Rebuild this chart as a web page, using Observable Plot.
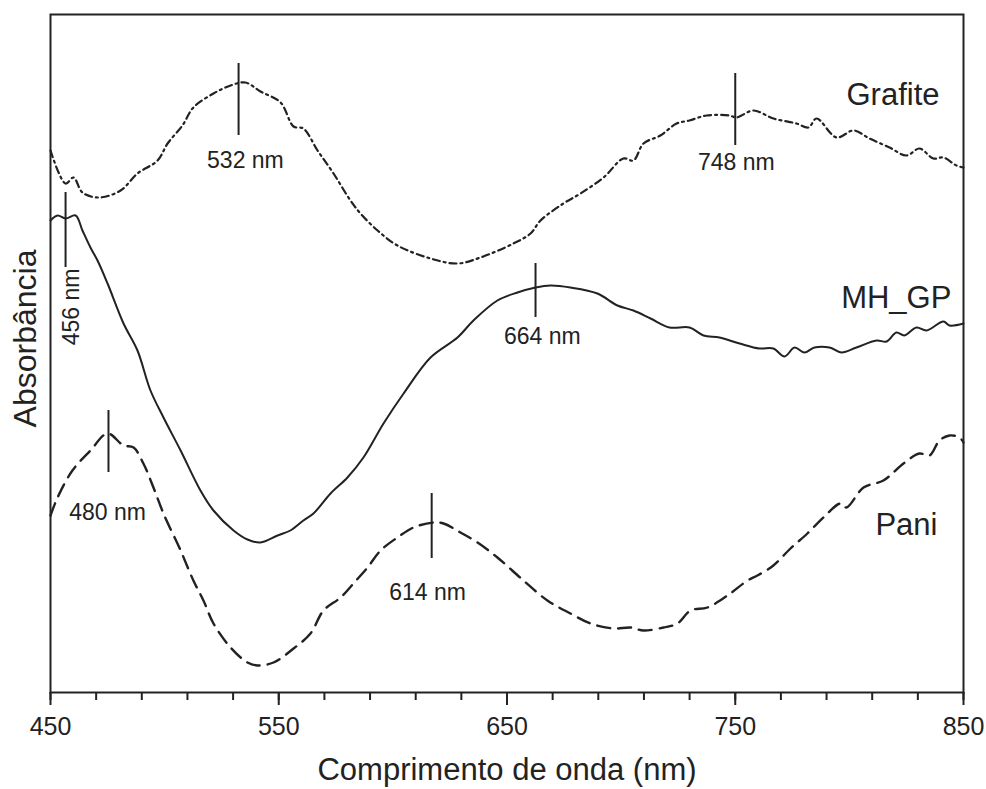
<!DOCTYPE html>
<html>
<head>
<meta charset="utf-8">
<script src="https://cdn.jsdelivr.net/npm/d3@7"></script>
<script src="https://cdn.jsdelivr.net/npm/@observablehq/plot@0.6"></script>
<style>
  html, body { margin: 0; padding: 0; background: #fff; }
  #chart svg { display: block; }
</style>
</head>
<body>
<div id="chart"></div>
<script>
// ---------- data ----------
const grafiteNm  = [450, 456.6, 460.1, 464.0, 471.0, 480.7, 488.1, 496.9, 501.3, 507.8, 512.6, 521.4, 528.9, 535.4, 542.0, 550.8, 556.5, 560.8, 567.0, 574.0, 581.4, 585.8, 593.3, 602.0, 616.5, 628.3, 638.4, 652.8, 660.3, 664.7, 674.7, 682.2, 692.3, 701.0, 705.4, 709.8, 717.2, 724.3, 729.9, 737.4, 747.5, 750.5, 758.0, 766.7, 776.8, 782.1, 785.6, 794.4, 801.8, 808.8, 817.6, 825.0, 830.7, 836.8, 841.2, 846.9, 850];
const grafiteAbs = [5.42, 5.09, 5.15, 5.00, 4.95, 5.02, 5.19, 5.32, 5.49, 5.67, 5.85, 5.99, 6.07, 6.10, 6.01, 5.90, 5.66, 5.64, 5.42, 5.19, 4.92, 4.79, 4.62, 4.47, 4.34, 4.29, 4.35, 4.49, 4.59, 4.72, 4.89, 4.99, 5.15, 5.34, 5.32, 5.49, 5.57, 5.69, 5.72, 5.77, 5.77, 5.75, 5.82, 5.74, 5.69, 5.65, 5.74, 5.55, 5.62, 5.54, 5.45, 5.37, 5.44, 5.34, 5.35, 5.27, 5.25];

const mhgpNm  = [450, 453.1, 456.6, 461.0, 464.0, 467.5, 470.6, 475.0, 482.0, 488.1, 493.8, 499.5, 507.0, 515.7, 521.4, 530.2, 536.3, 542.0, 549.5, 555.1, 560.8, 565.2, 572.7, 580.1, 587.1, 595.9, 604.7, 616.5, 628.3, 635.3, 645.8, 654.6, 662.5, 669.1, 677.8, 689.6, 698.4, 705.4, 712.9, 721.2, 730.0, 736.1, 743.1, 751.9, 760.6, 766.7, 771.6, 776.0, 780.3, 784.7, 791.3, 796.5, 803.1, 811.9, 816.3, 820.6, 824.1, 829.4, 833.8, 841.2, 843.9, 850];
const mhgpAbs = [4.72, 4.77, 4.74, 4.77, 4.62, 4.45, 4.32, 4.09, 3.69, 3.42, 3.02, 2.75, 2.42, 2.02, 1.82, 1.62, 1.53, 1.50, 1.57, 1.62, 1.72, 1.79, 1.99, 2.15, 2.35, 2.69, 2.99, 3.35, 3.55, 3.72, 3.92, 4.00, 4.05, 4.07, 4.05, 3.99, 3.87, 3.82, 3.74, 3.65, 3.65, 3.57, 3.55, 3.49, 3.44, 3.44, 3.36, 3.45, 3.40, 3.45, 3.45, 3.40, 3.45, 3.52, 3.51, 3.60, 3.57, 3.65, 3.62, 3.71, 3.67, 3.69];

const paniNm  = [450, 453.1, 459.6, 467.5, 475.0, 482.0, 486.4, 490.7, 495.1, 499.5, 507.0, 512.6, 517.0, 521.4, 528.9, 536.3, 540.7, 547.7, 556.5, 563.9, 569.6, 577.1, 582.7, 588.9, 594.6, 602.0, 609.0, 617.8, 622.2, 629.6, 637.1, 645.8, 657.2, 667.7, 677.8, 686.6, 696.6, 704.1, 709.8, 718.6, 724.7, 730.4, 737.8, 746.6, 755.4, 759.7, 766.7, 774.2, 781.6, 788.6, 796.1, 798.7, 806.2, 814.9, 823.7, 830.7, 835.1, 839.5, 843.9, 848.2, 850];
const paniAbs = [1.77, 1.95, 2.22, 2.42, 2.59, 2.47, 2.45, 2.29, 2.05, 1.79, 1.42, 1.12, 0.92, 0.69, 0.45, 0.30, 0.27, 0.30, 0.44, 0.59, 0.82, 0.95, 1.09, 1.25, 1.42, 1.55, 1.65, 1.70, 1.69, 1.60, 1.50, 1.35, 1.12, 0.92, 0.79, 0.69, 0.64, 0.65, 0.62, 0.65, 0.69, 0.82, 0.85, 0.97, 1.12, 1.17, 1.27, 1.44, 1.59, 1.75, 1.89, 1.85, 2.05, 2.12, 2.29, 2.39, 2.37, 2.52, 2.57, 2.55, 2.50];

// peak markers
const peakNm     = [456.6, 532.4, 750.0, 662.5, 475.4, 617.0];
const peakTop    = [5.00, 6.29, 6.19, 4.29, 2.82, 1.99];
const peakBottom = [4.25, 5.57, 5.47, 3.75, 2.20, 1.34];

// peak labels
const peakLabel    = ["456 nm", "532 nm", "748 nm", "664 nm", "480 nm", "614 nm"];
const peakLabelNm  = [459.2, 535.4, 750.5, 665.5, 475.0, 615.2];
const peakLabelAbs = [4.24, 5.32, 5.30, 3.56, 1.80, 1.00];
const peakLabelRot = [-90, 0, 0, 0, 0, 0];

// series names
const seriesName = ["Grafite", "MH_GP", "Pani"];
const seriesNameNm  = [839.5, 844.7, 838.6];
const seriesNameAbs = [5.97, 3.94, 1.67];

const majorTicks = [450, 550, 650, 750, 850];
const minorTicks = d3.range(450, 851, 20);

const xTitle = "Comprimento de onda (nm)";
const yTitle = "Absorbância";

// ---------- build tables ----------
const toRows = (xs, ys) => xs.map((x, i) => ({x, y: ys[i]}));
const grafite = toRows(grafiteNm, grafiteAbs);
const mhgp = toRows(mhgpNm, mhgpAbs);
const pani = toRows(paniNm, paniAbs);
const peaks = peakNm.map((x, i) => ({x, y1: peakBottom[i], y2: peakTop[i]}));
const plabels = peakLabel.map((t, i) => ({t, x: peakLabelNm[i], y: peakLabelAbs[i], r: peakLabelRot[i]}));
const snames = seriesName.map((t, i) => ({t, x: seriesNameNm[i], y: seriesNameAbs[i]}));

const ink = "#222";
const font = "'Liberation Sans', Arial, Helvetica, sans-serif";

const chart = Plot.plot({
  width: 986,
  height: 789,
  marginLeft: 50,
  marginRight: 23,
  marginTop: 14,
  marginBottom: 97,
  style: {fontFamily: font, fontSize: "25px", color: ink, background: "#fff", overflow: "visible"},
  x: {domain: [450, 850], axis: null},
  y: {domain: [0, 6.78], axis: null},
  marks: [
    Plot.frame({stroke: ink, strokeWidth: 2}),
    Plot.axisX({ticks: minorTicks, tickSize: 8, tickFormat: () => "", label: null, stroke: ink, strokeWidth: 2}),
    Plot.axisX({ticks: majorTicks, tickSize: 13, tickFormat: () => "", label: null, stroke: ink, strokeWidth: 2}),
    Plot.text(majorTicks, {x: d => d, frameAnchor: "bottom", lineAnchor: "top", textAnchor: "middle", dy: 25, text: d => String(d), fontSize: 25, fill: ink}),
    Plot.line(grafite, {x: "x", y: "y", stroke: ink, strokeWidth: 2.2, strokeDasharray: "7,4,2,4", curve: "catmull-rom"}),
    Plot.line(mhgp, {x: "x", y: "y", stroke: ink, strokeWidth: 2, curve: "catmull-rom"}),
    Plot.line(pani, {x: "x", y: "y", stroke: ink, strokeWidth: 2.4, strokeDasharray: "13,8", curve: "catmull-rom"}),
    Plot.ruleX(peaks, {x: "x", y1: "y1", y2: "y2", stroke: ink, strokeWidth: 2}),
    Plot.text(plabels.filter(d => d.r === 0), {x: "x", y: "y", text: "t", fontSize: 23, fill: ink}),
    Plot.text(plabels.filter(d => d.r !== 0), {x: "x", y: "y", text: "t", rotate: -90, textAnchor: "end", fontSize: 23, fill: ink}),
    Plot.text(snames, {x: "x", y: "y", text: "t", textAnchor: "end", fontSize: 31, fill: ink}),
    Plot.text([xTitle], {frameAnchor: "bottom", lineAnchor: "middle", textAnchor: "middle", dy: 78, fontSize: 31, fill: ink}),
    Plot.text([yTitle], {frameAnchor: "left", lineAnchor: "middle", textAnchor: "middle", dx: -25, dy: -15, rotate: -90, fontSize: 32, fill: ink})
  ]
});
document.getElementById("chart").appendChild(chart);
</script>
</body>
</html>
